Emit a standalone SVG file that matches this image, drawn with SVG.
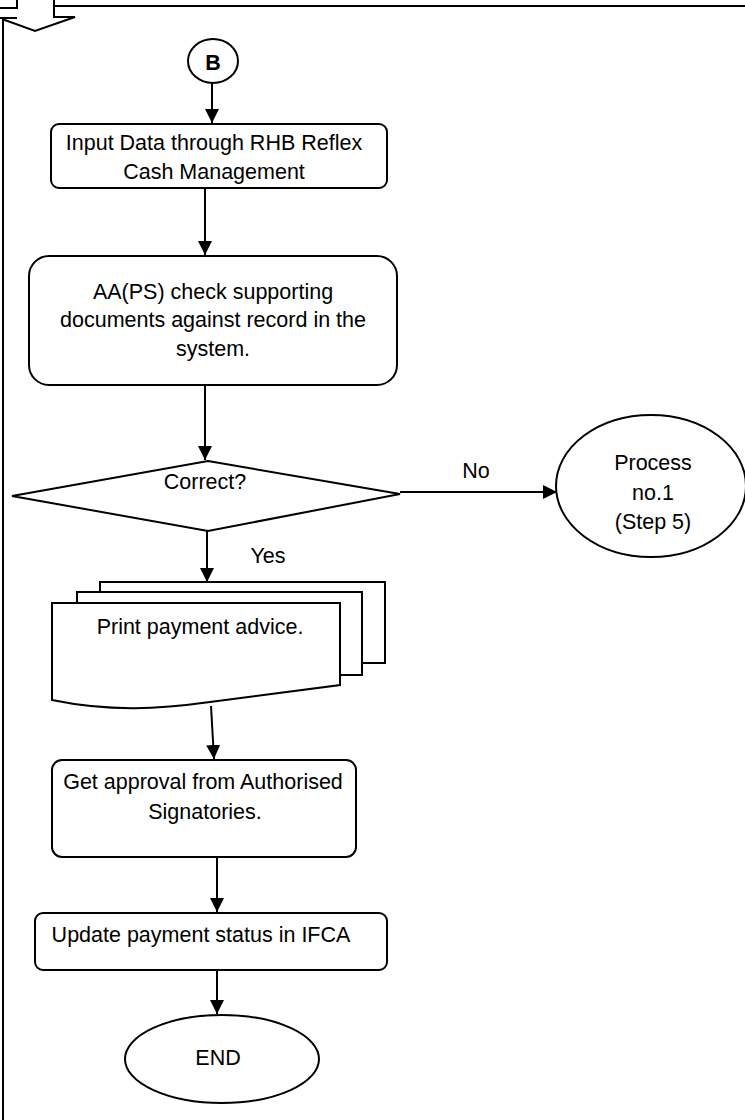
<svg xmlns="http://www.w3.org/2000/svg" width="745" height="1120" viewBox="0 0 745 1120">
  <style>
    .shape { fill: #ffffff; stroke: #000000; stroke-width: 2; }
    .line { fill: none; stroke: #000000; stroke-width: 2; }
    .label { font-family: "Liberation Sans", Arial, sans-serif; font-size: 21.5px; fill: #000000; text-anchor: middle; }
  </style>
  <defs>
    <marker id="head" viewBox="0 0 10 10" refX="10" refY="5" markerWidth="14" markerHeight="15" markerUnits="userSpaceOnUse" orient="auto">
      <path d="M0,0 L10,5 L0,10 Z" fill="#000000"/>
    </marker>
  </defs>

  <rect width="745" height="1120" fill="#ffffff"/>

  <!-- outer frame with the incoming block arrow -->
  <g id="frame">
    <path class="line" d="M54,6 H745"/>
    <path class="line" d="M3,18 V1120"/>
    <path class="line" d="M17,0 V8 H0 M0,18 H17 M54,0 V17 H75 L35,31 L2,19"/>
  </g>

  <!-- connectors -->
  <g id="connectors">
    <path class="line" d="M212,83 V123" marker-end="url(#head)"/>
    <path class="line" d="M205,188 V255" marker-end="url(#head)"/>
    <path class="line" d="M205,385 V460" marker-end="url(#head)"/>
    <path class="line" d="M400,492 H557" marker-end="url(#head)"/>
    <path class="line" d="M207,531 V582" marker-end="url(#head)"/>
    <path class="line" d="M211,706 L214,759" marker-end="url(#head)"/>
    <path class="line" d="M217,857 V912" marker-end="url(#head)"/>
    <path class="line" d="M217,971 V1014" marker-end="url(#head)"/>
    <text class="label" x="476" y="478">No</text>
    <text class="label" x="268" y="563">Yes</text>
  </g>

  <g id="node-b">
    <ellipse class="shape" cx="213" cy="61" rx="25" ry="22"/>
    <text class="label" x="213" y="70" font-size="23" font-weight="bold">B</text>
  </g>

  <g id="node-input">
    <rect class="shape" x="51" y="124" width="336" height="64" rx="8"/>
    <text class="label" x="214" y="150">Input Data through RHB Reflex</text>
    <text class="label" x="214" y="179">Cash Management</text>
  </g>

  <g id="node-check">
    <rect class="shape" x="29" y="256" width="368" height="129" rx="20"/>
    <text class="label" x="213" y="299">AA(PS) check supporting</text>
    <text class="label" x="213" y="327">documents against record in the</text>
    <text class="label" x="213" y="356">system.</text>
  </g>

  <g id="node-decision">
    <polygon class="shape" points="208,461 400,494 208,531 12,496"/>
    <text class="label" x="205" y="489">Correct?</text>
  </g>

  <g id="node-process1">
    <ellipse class="shape" cx="651" cy="486" rx="95" ry="71"/>
    <text class="label" x="653" y="470">Process</text>
    <text class="label" x="653" y="500">no.1</text>
    <text class="label" x="653" y="529">(Step 5)</text>
  </g>

  <g id="node-print">
    <rect class="shape" x="100" y="582" width="285" height="81"/>
    <rect class="shape" x="77" y="592" width="285" height="83"/>
    <path class="shape" d="M52,603 H340 V685 C300,690 255,696 210,702 C160,709 110,712 52,700 Z"/>
    <text class="label" x="200" y="634">Print payment advice.</text>
  </g>

  <g id="node-approval">
    <rect class="shape" x="52" y="760" width="304" height="97" rx="10"/>
    <text class="label" x="203" y="789" font-size="22">Get approval from Authorised</text>
    <text class="label" x="205" y="819" font-size="22">Signatories.</text>
  </g>

  <g id="node-update">
    <rect class="shape" x="35" y="913" width="352" height="57" rx="8"/>
    <text class="label" x="201" y="942" font-size="23">Update payment status in IFCA</text>
  </g>

  <g id="node-end">
    <ellipse class="shape" cx="222" cy="1059" rx="97" ry="44"/>
    <text class="label" x="218" y="1065">END</text>
  </g>
</svg>
